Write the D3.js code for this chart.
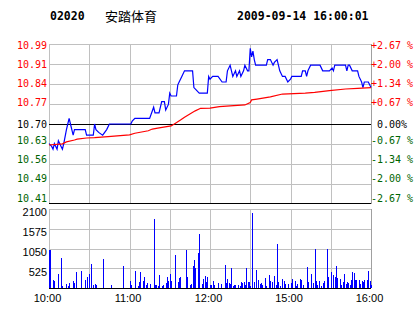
<!DOCTYPE html>
<html><head><meta charset="utf-8">
<script src="https://cdn.jsdelivr.net/npm/d3@7"></script>
<style>
html,body{margin:0;padding:0;background:#fff;}
svg{display:block;}
</style></head><body>
<svg id="c" width="414" height="314"></svg>
<script>
const stockCode = "02020";
const stockName = "安踏体育";
const stamp = "2009-09-14 16:00:01";
const prevClose = 10.70;
const pctTicks = [2.67, 2.00, 1.34, 0.67, 0, -0.67, -1.34, -2.00, -2.67];
const priceTickLabels = ["10.99","10.91","10.84","10.77","10.70","10.63","10.56","10.49","10.41"];
const pctTickLabels = ["+2.67 %","+2.00 %","+1.34 %","+0.67 %"," 0.00%","-0.67 %","-1.34 %","-2.00 %","-2.67 %"];
const volTicks = [525, 1050, 1575, 2100];
const volTickLabels = ["525", "1050", "1575", "2100"];
const timeTicks = ["10:00","11:00","12:00","15:00","16:00"];
const gridTimes = ["10:00","10:30","11:00","11:30","12:00","14:30","15:00","15:30","16:00"];

const priceTimes = ["10:00","10:02","10:03","10:04","10:06","10:07","10:09","10:10","10:11","10:13","10:14","10:15","10:16","10:17","10:18","10:19","10:27","10:28","10:33","10:34","10:35","10:37","10:40","10:43","10:45","11:01","11:02","11:04","11:15","11:18","11:19","11:22","11:24","11:26","11:27","11:29","11:30","11:31","11:35","11:36","11:37","11:39","11:41","11:47","11:48","11:52","11:58","11:59","12:00","12:02","12:06","12:09","12:12","12:13","12:15","12:16","12:17","12:19","12:20","12:22","12:23","12:25","12:26","12:28","12:29","14:30","14:31","14:32","14:33","14:34","14:42","14:43","14:45","14:47","14:48","14:50","14:51","14:52","14:54","14:56","14:58","15:00","15:01","15:08","15:09","15:11","15:12","15:13","15:15","15:22","15:24","15:29","15:31","15:32","15:33","15:41","15:42","15:43","15:44","15:46","15:50","15:51","15:53","15:54","15:55","15:58","16:00"];
const prices = [10.63,10.62,10.61,10.63,10.61,10.64,10.62,10.61,10.63,10.68,10.70,10.72,10.70,10.68,10.66,10.68,10.68,10.66,10.66,10.70,10.68,10.67,10.66,10.68,10.70,10.70,10.71,10.72,10.72,10.76,10.74,10.74,10.78,10.78,10.75,10.77,10.81,10.80,10.80,10.84,10.85,10.87,10.89,10.89,10.83,10.81,10.81,10.87,10.86,10.87,10.87,10.85,10.85,10.89,10.91,10.89,10.87,10.89,10.87,10.89,10.87,10.89,10.91,10.89,10.89,10.97,10.94,10.96,10.93,10.91,10.91,10.93,10.93,10.91,10.92,10.93,10.91,10.89,10.87,10.87,10.85,10.86,10.87,10.87,10.89,10.89,10.87,10.89,10.91,10.91,10.89,10.89,10.90,10.89,10.91,10.91,10.89,10.91,10.91,10.89,10.89,10.87,10.85,10.83,10.85,10.85,10.83];

const avgTimes = ["10:00","10:10","10:13","10:19","10:21","10:28","10:34","10:44","11:00","11:04","11:14","11:17","11:21","11:31","11:34","11:38","11:41","11:45","11:49","11:53","12:00","12:07","12:15","12:26","14:30","14:31","14:35","14:45","14:54","15:11","15:18","15:29","15:41","15:50","16:00"];
const avgPrices = [10.625,10.629,10.636,10.643,10.646,10.650,10.651,10.655,10.661,10.667,10.676,10.682,10.685,10.693,10.702,10.714,10.724,10.736,10.747,10.756,10.757,10.762,10.765,10.768,10.777,10.786,10.789,10.797,10.807,10.810,10.813,10.819,10.825,10.827,10.830];

const volTimes = ["10:00","10:01","10:03","10:04","10:07","10:09","10:10","10:13","10:14","10:15","10:18","10:19","10:20","10:24","10:27","10:28","10:30","10:31","10:33","10:34","10:35","10:40","10:46","10:55","11:00","11:01","11:04","11:06","11:07","11:08","11:10","11:11","11:12","11:13","11:15","11:18","11:19","11:20","11:21","11:22","11:24","11:25","11:27","11:28","11:29","11:30","11:31","11:34","11:36","11:37","11:38","11:42","11:43","11:45","11:46","11:47","11:48","11:49","11:51","11:52","11:54","11:55","11:56","11:57","11:58","12:00","12:01","12:02","12:03","12:06","12:08","12:11","12:12","12:13","12:14","12:15","12:16","12:17","12:18","12:19","12:21","12:22","12:23","12:24","12:25","12:26","12:27","12:28","12:29","14:30","14:31","14:33","14:34","14:36","14:37","14:38","14:39","14:41","14:42","14:44","14:45","14:46","14:48","14:49","14:50","14:51","14:52","14:54","14:55","14:56","14:58","15:00","15:01","15:03","15:04","15:05","15:07","15:08","15:09","15:12","15:13","15:15","15:17","15:18","15:19","15:20","15:21","15:23","15:24","15:25","15:27","15:28","15:30","15:32","15:33","15:34","15:35","15:37","15:38","15:39","15:40","15:41","15:42","15:43","15:44","15:45","15:46","15:47","15:48","15:49","15:51","15:52","15:53","15:54","15:55","15:57","15:58","15:59","16:00"];
const volumes = [1020,1000,213,186,372,806,53,106,62,133,186,133,425,461,221,292,372,638,80,106,80,771,80,585,186,80,452,53,160,425,186,292,80,133,106,1834,80,80,53,345,53,80,133,292,186,372,186,877,160,266,292,1010,292,80,106,585,744,532,921,1435,106,239,319,160,292,80,80,186,80,133,106,611,133,239,133,106,532,62,80,80,80,62,160,133,160,80,532,160,160,53,1994,160,478,213,106,133,80,266,53,345,186,160,319,80,1170,160,53,239,186,106,106,133,239,186,53,106,239,221,80,558,160,372,133,1045,186,80,186,53,133,186,1045,292,425,345,292,585,266,239,80,160,372,106,160,133,80,213,425,399,213,213,213,106,186,160,213,213,452,186,80];

const svg = d3.select("#c");
const RED = "#ff0000", GREEN = "#006400", BLUE = "#0000ff", GRID = "#c0c0c0";
const monoFont = "'DejaVu Sans Mono', 'Liberation Mono', monospace";
const sansFont = "'Liberation Sans', Arial, sans-serif";

function tradeMinute(t) {
  const [h, m] = t.split(":").map(Number);
  const mins = h * 60 + m;
  return mins <= 12 * 60 + 30 ? mins - 600 : 150 + mins - (14 * 60 + 30);
}

const x = d3.scaleLinear().domain([0, 240]).range([49, 371]);
const pct = d3.scaleLinear().domain([-2.67, 2.67]).range([204, 44]);
const py = d3.scaleLinear().domain([prevClose * (1 - 0.0267), prevClose * (1 + 0.0267)]).range([204, 44]);
const labelY = d3.scaleLinear().domain([-2.67, 2.67]).range([198, 45]);
const vy = d3.scaleLinear().domain([0, 2100]).range([288, 209]);

const snap = v => Math.round(v) + 0.5;

// header
svg.append("text").attr("x", 50).attr("y", 20).attr("font-family", monoFont)
  .attr("font-weight", "bold").attr("font-size", "11.5px").attr("fill", "#000").text(stockCode);
svg.append("text").attr("x", 105).attr("y", 20.5).attr("font-family", "'Noto Sans CJK SC', sans-serif")
  .attr("font-size", "13px").attr("fill", "#000").text(stockName);
svg.append("text").attr("x", 237).attr("y", 20).attr("font-family", monoFont)
  .attr("font-weight", "bold").attr("font-size", "11.5px").attr("fill", "#000").text(stamp);

const grid = svg.append("g").attr("shape-rendering", "crispEdges");
// price panel horizontal grid
pctTicks.forEach(p => {
  if (p === 0 || p === -2.67) return;
  grid.append("line").attr("x1", x(0)).attr("x2", x(240))
    .attr("y1", snap(pct(p))).attr("y2", snap(pct(p))).attr("stroke", GRID);
});
// vertical grid both panels
gridTimes.forEach(t => {
  const xx = snap(x(tradeMinute(t)));
  const col = (t === "16:00") ? "#a0a0a0" : GRID;
  grid.append("line").attr("x1", xx).attr("x2", xx).attr("y1", pct(2.67)).attr("y2", pct(-2.67)).attr("stroke", col);
  grid.append("line").attr("x1", xx).attr("x2", xx).attr("y1", vy(2100)).attr("y2", vy(0)).attr("stroke", col);
});
// volume horizontal grid
volTicks.forEach(v => {
  grid.append("line").attr("x1", x(0)).attr("x2", x(240))
    .attr("y1", snap(vy(v))).attr("y2", snap(vy(v))).attr("stroke", GRID);
});
// black lines
grid.append("line").attr("x1", x(0)).attr("x2", x(240)).attr("y1", snap(pct(0))).attr("y2", snap(pct(0))).attr("stroke", "#000");
grid.append("line").attr("x1", x(0)).attr("x2", x(240)).attr("y1", snap(pct(-2.67)) - 1).attr("y2", snap(pct(-2.67)) - 1).attr("stroke", "#000");
grid.append("line").attr("x1", x(0)).attr("x2", x(240)).attr("y1", snap(vy(0))).attr("y2", snap(vy(0))).attr("stroke", "#000");

// price labels (left) and pct labels (right)
const labColor = p => p > 0 ? RED : (p < 0 ? GREEN : "#000");
pctTicks.forEach((p, i) => {
  const yy = p === 0 ? pct(0) : labelY(p);
  svg.append("text").attr("x", 47).attr("y", yy).attr("dy", "0.36em")
    .attr("text-anchor", "end").attr("font-family", monoFont).attr("font-size", "10px")
    .attr("fill", labColor(p)).text(priceTickLabels[i]);
  svg.append("text").attr("x", 371).attr("y", yy).attr("dy", "0.36em")
    .attr("font-family", monoFont).attr("font-size", "10px").style("white-space", "pre")
    .attr("fill", labColor(p)).text(pctTickLabels[i]);
});

// volume labels
volTicks.forEach((v, i) => {
  svg.append("text").attr("x", 47).attr("y", vy(v) + 3.5).attr("dy", "0.35em")
    .attr("text-anchor", "end").attr("font-family", sansFont).attr("font-size", "11px")
    .attr("fill", "#000").text(volTickLabels[i]);
});

// time labels
timeTicks.forEach(t => {
  svg.append("text").attr("x", x(tradeMinute(t)) - 1.5).attr("y", 302)
    .attr("text-anchor", "middle").attr("font-family", sansFont).attr("font-size", "11px")
    .attr("fill", "#000").text(t);
});

// volume bars
const volData = volTimes.map((t, i) => ({ t, v: volumes[i] }));
svg.append("g").attr("shape-rendering", "crispEdges").selectAll("rect").data(volData).enter().append("rect")
  .attr("x", d => Math.round(x(tradeMinute(d.t))))
  .attr("width", 1)
  .attr("y", d => Math.round(vy(d.v)))
  .attr("height", d => Math.round(vy(0)) - Math.round(vy(d.v)))
  .attr("fill", BLUE);

// price line and average line
const priceData = priceTimes.map((t, i) => ({ t, p: prices[i] }));
const avgData = avgTimes.map((t, i) => ({ t, p: avgPrices[i] }));
const line = d3.line().x(d => x(tradeMinute(d.t))).y(d => py(d.p));
svg.append("path").datum(priceData).attr("d", line).attr("fill", "none")
  .attr("stroke", BLUE).attr("stroke-width", 1.2);
svg.append("path").datum(avgData).attr("d", line).attr("fill", "none")
  .attr("stroke", RED).attr("stroke-width", 1.2);
</script>
</body></html>
